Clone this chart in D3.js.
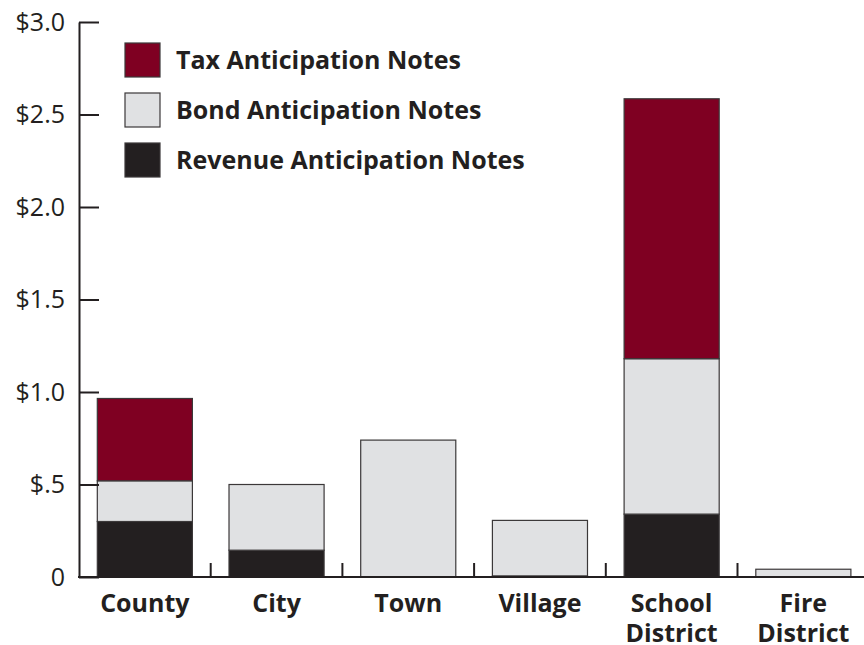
<!DOCTYPE html>
<html>
<head>
<meta charset="utf-8">
<script src="https://cdn.jsdelivr.net/npm/d3@7"></script>
<style>
  html, body { margin: 0; padding: 0; background: #fff; }
  svg { display: block; }
  text { font-family: "Open Sans", "Lato", sans-serif; fill: #231f20; }
</style>
</head>
<body>
<svg id="chart" width="864" height="645"></svg>
<script>
// Short-term notes outstanding by type of local government (billions of dollars)
const categories = ["County", "City", "Town", "Village", "School District", "Fire District"];
const revenueNotes = [0.30, 0.145, 0, 0.006, 0.34, 0];
const bondNotes = [0.22, 0.355, 0.74, 0.30, 0.84, 0.042];
const taxNotes = [0.445, 0, 0, 0, 1.405, 0];

const seriesKeys = ["revenue", "bond", "tax"];
const seriesLabels = ["Revenue Anticipation Notes", "Bond Anticipation Notes", "Tax Anticipation Notes"];
const seriesColors = ["#231f20", "#e0e1e3", "#7f0022"];

const tickValues = [0, 0.5, 1.0, 1.5, 2.0, 2.5, 3.0];
const tickLabels = ["0", "$.5", "$1.0", "$1.5", "$2.0", "$2.5", "$3.0"];

const rows = categories.map((c, i) => ({
  category: c,
  revenue: revenueNotes[i],
  bond: bondNotes[i],
  tax: taxNotes[i]
}));

const svg = d3.select("#chart");
const axisColor = "#231f20";

const x = d3.scaleBand()
  .domain(categories)
  .range([79, 79 + 6 * 131.7])
  .paddingInner(0.278)
  .paddingOuter(0.139);

const y = d3.scaleLinear().domain([0, 3]).range([577, 22]);

const stacked = d3.stack().keys(seriesKeys)(rows);

// Stacked bars
const layers = svg.append("g")
  .selectAll("g")
  .data(stacked)
  .join("g")
  .attr("fill", (d, i) => seriesColors[i]);

layers.selectAll("rect")
  .data(d => d.filter(s => s[1] - s[0] > 0))
  .join("rect")
  .attr("x", d => x(d.data.category))
  .attr("width", x.bandwidth())
  .attr("y", d => y(d[1]))
  .attr("height", d => y(d[0]) - y(d[1]))
  .attr("stroke", "#3b3839")
  .attr("stroke-width", 1.2);

// Y axis: ticks point inward
const yAxis = d3.axisLeft(y)
  .tickValues(tickValues)
  .tickFormat((d, i) => tickLabels[i])
  .tickSizeInner(-20)
  .tickSizeOuter(0)
  .tickPadding(14);

const yg = svg.append("g")
  .attr("transform", "translate(79,0)")
  .call(yAxis);
yg.select(".domain").attr("stroke", axisColor).attr("stroke-width", 2);
yg.selectAll(".tick line").attr("stroke", axisColor).attr("stroke-width", 2);
yg.selectAll(".tick text")
  .attr("font-size", 25)
  .attr("font-family", "\"Open Sans\", sans-serif")
  .attr("fill", axisColor);

// Baseline
svg.append("line")
  .attr("x1", x.range()[0] - 1).attr("x2", x.range()[1])
  .attr("y1", y(0)).attr("y2", y(0))
  .attr("stroke", axisColor).attr("stroke-width", 2);

// Short separators between categories
const boundaries = categories.slice(1).map(c => x(c) - x.step() * x.paddingInner() / 2);
svg.append("g")
  .selectAll("line")
  .data(boundaries)
  .join("line")
  .attr("x1", d => d).attr("x2", d => d)
  .attr("y1", y(0)).attr("y2", y(0) - 14)
  .attr("stroke", axisColor).attr("stroke-width", 2);

// Category labels (wrapped on spaces for two-word names)
const xLabels = svg.append("g")
  .selectAll("text")
  .data(categories)
  .join("text")
  .attr("x", d => x(d) + x.bandwidth() / 2)
  .attr("y", 612)
  .attr("text-anchor", "middle")
  .attr("font-size", 25)
  .attr("font-weight", 700);
xLabels.each(function(d) {
  const words = d.split(" ");
  const t = d3.select(this);
  words.forEach((w, i) => {
    t.append("tspan")
      .attr("x", x(d) + x.bandwidth() / 2)
      .attr("dy", i === 0 ? 0 : 30)
      .text(w);
  });
});

// Legend (tax on top, revenue at bottom)
const legendOrder = [2, 1, 0];
const legend = svg.append("g")
  .selectAll("g")
  .data(legendOrder)
  .join("g")
  .attr("transform", (d, i) => `translate(125,${43 + i * 50})`);
legend.append("rect")
  .attr("width", 35).attr("height", 34)
  .attr("fill", d => seriesColors[d])
  .attr("stroke", "#3b3839")
  .attr("stroke-width", 1.2);
legend.append("text")
  .attr("x", 51)
  .attr("y", 26)
  .attr("font-size", 25)
  .attr("font-weight", 700)
  .text(d => seriesLabels[d]);
</script>
</body>
</html>
